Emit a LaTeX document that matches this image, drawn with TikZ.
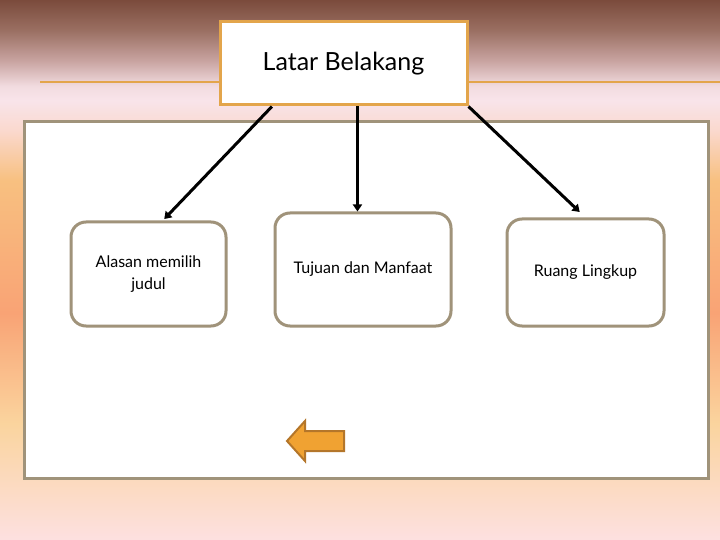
\documentclass[tikz,border=0pt]{standalone}
\usepackage{fontspec}
\setmainfont{Lato}
\usepackage{xcolor}
\usetikzlibrary{arrows.meta, positioning, calc}

\definecolor{bgbrown}{HTML}{7B4B3C}
\definecolor{bgdusk}{HTML}{9A6F62}
\definecolor{bgmauve}{HTML}{C8A3A0}
\definecolor{bgrose}{HTML}{F2DCE0}
\definecolor{bgblush}{HTML}{F9E4EA}
\definecolor{bgpeach}{HTML}{FAD9CF}
\definecolor{bgamber}{HTML}{F8C080}
\definecolor{bgsalmon}{HTML}{F9A375}
\definecolor{bgsand}{HTML}{FAD49E}
\definecolor{bgpink}{HTML}{FDE0E0}
\definecolor{titleline}{HTML}{E3A54B}
\definecolor{panelline}{HTML}{A0937A}
\definecolor{btnfill}{HTML}{F0A232}
\definecolor{btnline}{HTML}{B4762A}

\pgfdeclareverticalshading{slidebg}{100bp}{color(0bp)=(bgpink); color(25bp)=(bgpink); color(35.8bp)=(bgsand); color(46bp)=(bgsalmon); color(58.3bp)=(bgamber); color(63bp)=(bgpeach); color(65.7bp)=(bgblush); color(67bp)=(bgrose); color(69.4bp)=(bgmauve); color(72.2bp)=(bgdusk); color(75bp)=(bgbrown); color(100bp)=(bgbrown)}

\tikzset{
  titlebox/.style={draw=titleline, line width=3pt, fill=white, inner sep=0pt,
    minimum width=247, minimum height=83, font=\fontsize{25}{30}\selectfont},
  topicbox/.style={draw=panelline, line width=3pt, fill=white, rounded corners=15pt,
    inner sep=0pt, align=center, font=\fontsize{16}{22}\selectfont},
  link/.style={line width=3pt, -{Triangle[length=7pt,width=9pt]}}
}

\begin{document}
\begin{tikzpicture}[x=1pt, y=-1pt]
\useasboundingbox (0,0) rectangle (720,540);

% background
\shade[shading=slidebg] (0,0) rectangle (720,540);
\draw[titleline, line width=2pt] (40,82) -- (720,82);
\draw[panelline, line width=3pt, fill=white] (24,122) rectangle (708,478);

% top node
\node[titlebox] (latar) at (343.5,63.5) {Latar Belakang};

% the three topics
\node[topicbox, minimum width=155, minimum height=104] (alasan) at (148.5,274) {Alasan memilih\\judul};
\node[topicbox, minimum width=176, minimum height=113] (tujuan) at (363,269.5) {Tujuan dan Manfaat};
\node[topicbox, minimum width=157, minimum height=107] (ruang) at (585.5,272.5) {Ruang Lingkup};

\draw[link, shorten >=2pt] (latar.-149) -- (alasan.75);
\draw[link] (latar.-72) -- (tujuan.north -| latar.-72);
\draw[link, shorten >=8pt] (latar.south east) -- (ruang.north);

% back button
\draw[btnline, fill=btnfill, line width=2pt, line join=miter]
  (344,431) -- (305,431) -- (305,421) -- (287,441) -- (305,461) -- (305,451) -- (344,451) -- cycle;
\end{tikzpicture}
\end{document}
